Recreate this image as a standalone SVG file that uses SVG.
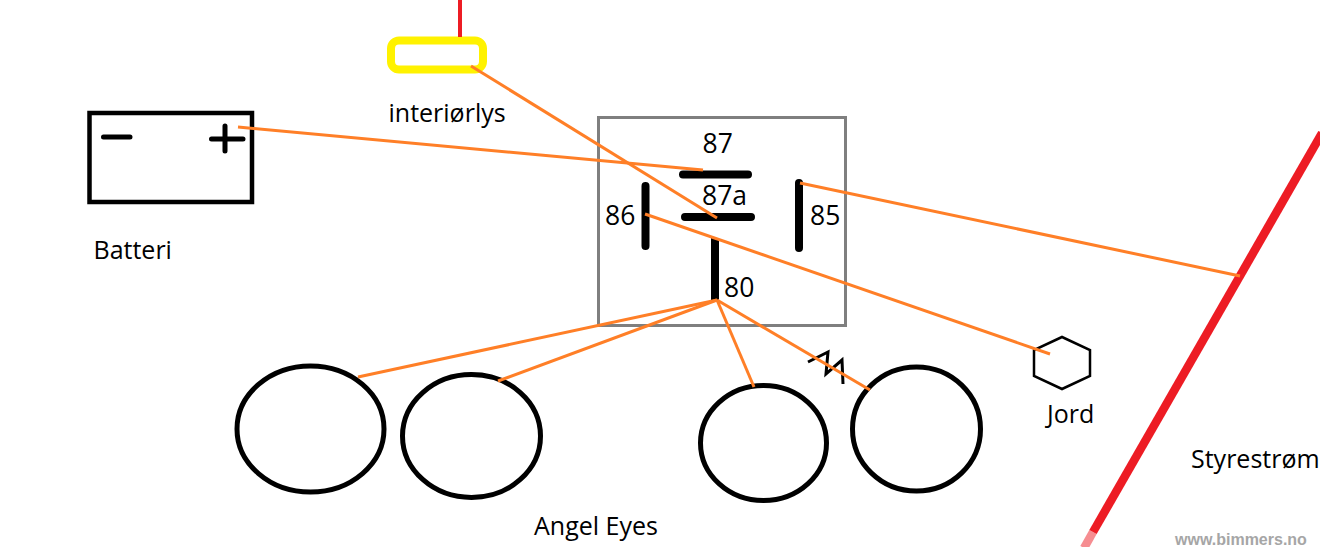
<svg xmlns="http://www.w3.org/2000/svg" width="1320" height="547" viewBox="0 0 1320 547">
<style>
.k{fill:none;stroke:#000;stroke-linecap:round;stroke-linejoin:round}
.c{fill:none;stroke:#000;stroke-width:5}
.o{fill:none;stroke:#ff7f27;stroke-width:3}
.r{fill:none;stroke:#ed1c24}
.t{font-family:"Open Sans","Noto Sans",sans-serif;font-size:25px;fill:#000}
.n{font-size:26.500px}
</style>
<rect width="1320" height="547" fill="#fff"/>
<g id="battery">
<rect x="89.500" y="113" width="162.500" height="89" fill="none" stroke="#000" stroke-width="4.500"/>
<path class="k" stroke-width="5" d="M103.500 137H130M211.500 139H243M225 126V151"/>
<text class="t" x="93.500" y="259">Batteri</text>
</g>
<g id="interior-light">
<rect x="391" y="40.500" width="92" height="29" rx="8" fill="none" stroke="#fff200" stroke-width="8"/>
<text class="t" x="388.500" y="122">interiørlys</text>
</g>
<g id="relay">
<rect x="598.500" y="117.500" width="247" height="208" fill="none" stroke="#7f7f7f" stroke-width="3"/>
<path class="k" stroke-width="8" d="M683 174.500H748M685 217H751M645.500 186V246M799 183V248"/>
<path fill="none" stroke="#000" stroke-width="8" d="M715 238V300"/>
<text class="t n" x="702.500" y="152.500">87</text>
<text class="t n" x="702" y="205">87a</text>
<text class="t n" x="605" y="224.500">86</text>
<text class="t n" x="810" y="224.500">85</text>
<text class="t n" x="724" y="297">80</text>
</g>
<g id="lamp-1"><ellipse class="c" cx="310.500" cy="429" rx="73.500" ry="63"/></g>
<g id="lamp-2"><ellipse class="c" cx="471.500" cy="436" rx="69" ry="61.500"/></g>
<g id="lamp-3"><ellipse class="c" cx="763.500" cy="443" rx="63" ry="57.500"/></g>
<g id="lamp-4"><ellipse class="c" cx="916.500" cy="429" rx="64" ry="62"/></g>
<g id="angel-eyes-label"><text class="t" x="534" y="535">Angel Eyes</text></g>
<g id="ground">
<path fill="none" stroke="#000" stroke-width="2.500" d="M1062 337L1090 350V376L1062 389L1034 376V350Z"/>
<text class="t" x="1047" y="423">Jord</text>
</g>
<g id="control-wire">
<path class="r" stroke-width="8.500" d="M1322 133L1093 532"/>
<path fill="none" stroke="#ed1c24" stroke-opacity=".5" stroke-width="8.500" d="M1093 532L1084 548"/>
<text class="t" x="1191" y="468">Styrestrøm</text>
</g>
<g id="flasher"><path fill="none" stroke="#000" stroke-width="3" d="M808 362L828 352L826 374L842 360L843 384"/></g>
<g id="connectors">
<path class="r" stroke-width="4" d="M460 0V37"/>
<path class="o" d="M238 127L703 170"/>
<path class="o" d="M471 66L717 218"/>
<path class="o" d="M645 214L1050 354"/>
<path class="o" d="M800 183L1240 276"/>
<path class="o" d="M717 300L358 377"/>
<path class="o" d="M717 300L498 381"/>
<path class="o" d="M717 300L754 387"/>
<path class="o" d="M717 300L870 390"/>
</g>
<g id="watermark"><text x="1175" y="545" font-family="Liberation Sans,sans-serif" font-size="16" font-weight="700" fill="#a6a6a6">www.bimmers.no</text></g>
</svg>
